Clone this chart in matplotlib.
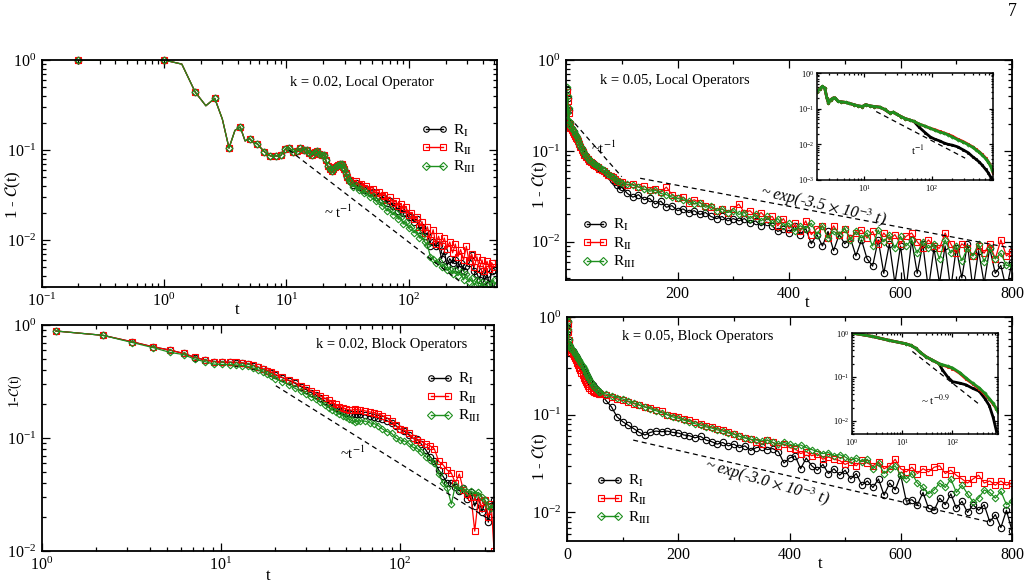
import matplotlib
matplotlib.use("Agg")
import matplotlib.pyplot as plt
from matplotlib.lines import Line2D
from matplotlib.ticker import MultipleLocator, NullFormatter, FixedLocator

plt.rcParams["font.family"] = ["Liberation Serif", "DejaVu Serif"]
plt.rcParams["mathtext.fontset"] = "stix"

LABELS = [r"R$_\mathrm{I}$", r"R$_\mathrm{II}$", r"R$_\mathrm{III}$"]
COLORS = ["#000000", "#ff0000", "#1e8f1e"]
MARKERS = ["o", "s", "D"]
MSIZES = [4.6, 4.4, 3.4]

# ---------------- k = 0.02, local operator (log-log) ----------------
tl_t_early = [0.2, 1.0, 1.4, 1.8, 2.2, 2.6, 3.0, 3.4, 3.8, 4.2, 4.6, 5.0, 5.4,
              5.8, 6.2, 6.6, 7.0, 7.4, 7.8, 8.2, 8.6, 9.0, 9.4, 9.8, 10.2]
tl_y_early = [1.0, 1.0, 0.9, 0.44, 0.31, 0.375, 0.22, 0.105, 0.165, 0.18, 0.126,
              0.134, 0.12, 0.117, 0.105, 0.096, 0.09, 0.086, 0.085, 0.086, 0.085,
              0.087, 0.094, 0.102, 0.107]
tl_t_mid = [10.6, 11.4, 12.2, 13.0, 13.8, 14.6, 15.4, 16.2, 17.0, 17.8, 18.6, 19.4,
            20.2, 21.0, 21.8, 22.6, 23.4, 24.2, 25.0, 25.8, 26.6, 27.4, 28.2, 29.0,
            29.8, 30.6, 31.4, 32.2]
tl_y_mid = [0.105, 0.095, 0.097, 0.104, 0.100, 0.101, 0.093, 0.088, 0.096, 0.097,
            0.090, 0.087, 0.088, 0.077, 0.066, 0.061, 0.059, 0.061, 0.064, 0.066,
            0.068, 0.070, 0.069, 0.065, 0.062, 0.056, 0.050, 0.046]
tl_t_late = [33, 35, 37, 39, 41, 43, 45, 48, 51, 54, 57, 60, 63, 66, 70, 74, 78, 82,
             86, 90, 95, 100, 105, 110, 116, 122, 128, 135, 142, 150, 158, 166, 175,
             185, 195, 205, 216, 228, 240, 252, 265, 280, 295, 310, 326, 342, 360,
             378, 396, 415, 435, 455, 475, 495]
tl_r1_late = [0.045, 0.041, 0.043, 0.039, 0.040, 0.036, 0.037, 0.034, 0.034, 0.030,
              0.031, 0.028, 0.029, 0.026, 0.027, 0.024, 0.024, 0.021, 0.022, 0.020,
              0.020, 0.018, 0.018, 0.016, 0.017, 0.013, 0.014, 0.011, 0.012, 0.0085,
              0.0095, 0.0085, 0.0088, 0.0062, 0.0075, 0.0052, 0.0062, 0.0055, 0.006,
              0.0048, 0.0056, 0.0045, 0.0052, 0.0055, 0.0068, 0.0045, 0.0042, 0.0036,
              0.0045, 0.0035, 0.0042, 0.0032, 0.0045, 0.0046]
tl_r2_late = [0.046, 0.043, 0.045, 0.041, 0.042, 0.038, 0.040, 0.036, 0.037, 0.033,
              0.034, 0.031, 0.032, 0.028, 0.030, 0.026, 0.027, 0.024, 0.025, 0.022,
              0.023, 0.019, 0.020, 0.017, 0.018, 0.014, 0.016, 0.012, 0.014, 0.010,
              0.013, 0.009, 0.011, 0.0085, 0.0105, 0.008, 0.0095, 0.0072, 0.009,
              0.0065, 0.0078, 0.006, 0.0085, 0.0058, 0.007, 0.005, 0.0065, 0.0048,
              0.006, 0.0045, 0.0058, 0.0048, 0.0056, 0.005]
tl_r3_late = [0.044, 0.039, 0.041, 0.036, 0.037, 0.033, 0.034, 0.030, 0.031, 0.027,
              0.027, 0.024, 0.025, 0.021, 0.022, 0.019, 0.020, 0.017, 0.018, 0.015,
              0.016, 0.0135, 0.014, 0.012, 0.0125, 0.0105, 0.011, 0.0095, 0.0088,
              0.0065, 0.0062, 0.0055, 0.0058, 0.005, 0.0052, 0.0046, 0.0048, 0.0042,
              0.0046, 0.004, 0.0044, 0.0036, 0.0042, 0.0034, 0.0038, 0.0031, 0.0036,
              0.0029, 0.0034, 0.0028, 0.0032, 0.0027, 0.0033, 0.0036]
tl_fit_t = [10.5, 258]
tl_fit_y = [0.1, 0.0035]

# ---------------- k = 0.05, local operators (lin-log) ----------------
tr_t_early = [1, 2, 3, 4, 5, 6, 7, 8, 10, 12, 14, 16, 18, 20, 22, 24, 26, 28, 30,
              33, 36, 39, 42, 45, 48, 51, 54, 57, 60, 64, 68, 72, 76, 80, 84, 88, 92, 96]
tr_r1_early = [0.48, 0.28, 0.38, 0.21, 0.28, 0.2, 0.205, 0.185, 0.175, 0.165, 0.16,
               0.15, 0.144, 0.138, 0.13, 0.12, 0.112, 0.105, 0.099, 0.092, 0.087,
               0.082, 0.079, 0.076, 0.073, 0.071, 0.069, 0.067, 0.065, 0.062, 0.06,
               0.057, 0.054, 0.051, 0.048, 0.046, 0.042, 0.038]
tr_r2_early = [0.45, 0.3, 0.35, 0.2, 0.26, 0.19, 0.2, 0.18, 0.17, 0.16, 0.155, 0.147,
               0.14, 0.135, 0.127, 0.118, 0.11, 0.103, 0.098, 0.091, 0.086, 0.081,
               0.078, 0.075, 0.072, 0.07, 0.068, 0.066, 0.064, 0.062, 0.06, 0.057,
               0.055, 0.053, 0.051, 0.049, 0.047, 0.046]
tr_r3_early = [0.5, 0.26, 0.4, 0.22, 0.3, 0.2, 0.21, 0.19, 0.18, 0.17, 0.165, 0.155,
               0.148, 0.142, 0.133, 0.123, 0.114, 0.107, 0.101, 0.094, 0.088, 0.083,
               0.08, 0.077, 0.074, 0.072, 0.07, 0.068, 0.066, 0.063, 0.061, 0.058,
               0.056, 0.053, 0.051, 0.049, 0.047, 0.046]
tr_t_late = [100, 110, 120, 130, 140, 150, 160, 170, 180, 190, 200, 210, 220, 230,
             240, 250, 260, 270, 280, 290, 300, 310, 320, 330, 340, 350, 360, 370,
             380, 390, 400, 410, 420, 430, 440, 450, 460, 470, 480, 490, 500, 510,
             520, 530, 540, 550, 560, 570, 580, 590, 600, 610, 620, 630, 640, 650,
             660, 670, 680, 690, 700, 710, 720, 730, 740, 750, 760, 770, 780, 790, 800]
tr_r1_late = [0.040, 0.034, 0.031, 0.033, 0.029, 0.030, 0.026, 0.028, 0.024, 0.025,
              0.022, 0.023, 0.021, 0.022, 0.020, 0.021, 0.019, 0.018, 0.019, 0.017,
              0.018, 0.017, 0.018, 0.016, 0.017, 0.015, 0.0165, 0.015, 0.013, 0.014,
              0.0125, 0.015, 0.012, 0.014, 0.0095, 0.012, 0.009, 0.013, 0.008, 0.012,
              0.0095, 0.011, 0.007, 0.0105, 0.0065, 0.0054, 0.0105, 0.0045, 0.0095,
              0.0035, 0.009, 0.003, 0.0105, 0.0045, 0.0095, 0.003, 0.0085, 0.0035,
              0.009, 0.003, 0.0085, 0.004, 0.0095, 0.003, 0.008, 0.0035, 0.0085,
              0.0045, 0.0055, 0.003, 0.006]
tr_r2_late = [0.045, 0.042, 0.043, 0.040, 0.041, 0.037, 0.038, 0.035, 0.040, 0.033,
              0.030, 0.031, 0.027, 0.029, 0.027, 0.025, 0.024, 0.022, 0.023, 0.021,
              0.023, 0.026, 0.021, 0.022, 0.019, 0.021, 0.018, 0.019, 0.015, 0.018,
              0.014, 0.016, 0.013, 0.017, 0.012, 0.014, 0.015, 0.011, 0.015, 0.012,
              0.014, 0.011, 0.0125, 0.0135, 0.011, 0.013, 0.0095, 0.0125, 0.0105, 0.012,
              0.0095, 0.0115, 0.0125, 0.010, 0.0085, 0.0105, 0.009, 0.0085, 0.0125,
              0.0095, 0.0075, 0.0095, 0.0085, 0.007, 0.009, 0.0075, 0.0095, 0.0065,
              0.0105, 0.007, 0.0078]
tr_r3_late = [0.044, 0.043, 0.042, 0.040, 0.038, 0.036, 0.037, 0.034, 0.033, 0.031,
              0.030, 0.029, 0.028, 0.026, 0.027, 0.024, 0.025, 0.022, 0.023, 0.021,
              0.022, 0.020, 0.021, 0.018, 0.020, 0.017, 0.019, 0.016, 0.018, 0.015,
              0.016, 0.013, 0.015, 0.014, 0.016, 0.012, 0.015, 0.011, 0.013, 0.012,
              0.014, 0.0105, 0.013, 0.011, 0.0125, 0.009, 0.0135, 0.010, 0.012, 0.0085,
              0.0115, 0.009, 0.0105, 0.0075, 0.010, 0.0085, 0.0095, 0.0065, 0.0105,
              0.0075, 0.009, 0.0062, 0.0085, 0.007, 0.0095, 0.006, 0.0085, 0.0065,
              0.0075, 0.0055, 0.0055]
tr_pow_t = [16, 100]
tr_pow_y = [0.2, 0.052]
tr_exp_t = [133, 800]
tr_exp_y = [0.050, 0.0085]

# inset of the k = 0.05 local panel (log-log)
tri_t_shared = [2.0, 2.2, 2.4, 2.6, 2.8, 2.95, 3.2, 3.5, 3.7, 4.1, 4.6, 5.3, 6.0, 7.0,
                8.0, 9.4, 10.5, 12, 14, 17, 20, 24, 27, 30, 35, 40, 47, 54]
tri_y_shared = [0.30, 0.36, 0.42, 0.38, 0.2, 0.145, 0.18, 0.2, 0.2, 0.16, 0.155,
                0.15, 0.14, 0.13, 0.12, 0.115, 0.13, 0.12, 0.115, 0.11, 0.095, 0.075,
                0.08, 0.07, 0.06, 0.053, 0.048, 0.044]
tri_t_late = [65, 80, 95, 110, 130, 150, 173, 200, 240, 290, 345, 400, 450, 500,
              555, 620, 680, 740, 780, 800]
tri_r1_late = [0.03, 0.021, 0.016, 0.014, 0.0125, 0.011, 0.010, 0.0095, 0.0085, 0.007,
               0.0058, 0.0045, 0.0038, 0.0032, 0.0026, 0.002, 0.0016, 0.0012, 0.001,
               0.0009]
tri_r2_late = [0.037, 0.032, 0.028, 0.026, 0.023, 0.021, 0.019, 0.017, 0.014, 0.012,
               0.010, 0.0085, 0.0072, 0.0062, 0.0052, 0.0042, 0.0033, 0.0025, 0.002,
               0.0016]
tri_r3_late = [0.037, 0.032, 0.028, 0.025, 0.022, 0.0205, 0.0185, 0.016, 0.0135,
               0.0115, 0.0098, 0.0082, 0.007, 0.006, 0.005, 0.004, 0.0032, 0.0024,
               0.0019, 0.0017]
tri_fit_t = [15, 310]
tri_fit_y = [0.083, 0.0041]

# ---------------- k = 0.02, block operators (log-log) ----------------
bl_t_early = [1.2, 2.2, 3.2, 4.2, 5.2, 6.2, 7.2, 8.2, 9.2, 10.2, 11.2, 12.2, 13.2,
              14.2, 15.2, 16.2, 17.2, 18.2, 19.2, 20.2]
bl_r1_early = [0.885, 0.81, 0.71, 0.64, 0.60, 0.56, 0.515, 0.49, 0.475, 0.47, 0.468,
               0.465, 0.46, 0.452, 0.438, 0.422, 0.406, 0.391, 0.377, 0.362]
bl_r2_early = [0.885, 0.81, 0.71, 0.64, 0.60, 0.56, 0.517, 0.49, 0.475, 0.47, 0.47,
               0.468, 0.463, 0.455, 0.44, 0.425, 0.41, 0.395, 0.38, 0.365]
bl_r3_early = [0.885, 0.81, 0.70, 0.63, 0.573, 0.547, 0.497, 0.473, 0.45, 0.448,
               0.446, 0.443, 0.438, 0.43, 0.415, 0.40, 0.385, 0.368, 0.352, 0.335]
bl_t_mid = [22, 24, 26, 28, 30, 32, 34, 36, 38, 40, 42, 44, 46, 48, 50, 52, 54, 56,
            58, 60]
bl_r1_mid = [0.343, 0.322, 0.305, 0.285, 0.268, 0.252, 0.24, 0.225, 0.213, 0.203,
             0.193, 0.185, 0.178, 0.172, 0.168, 0.166, 0.164, 0.163, 0.162, 0.162]
bl_r2_mid = [0.345, 0.325, 0.31, 0.29, 0.275, 0.26, 0.25, 0.235, 0.225, 0.215, 0.205,
             0.198, 0.19, 0.185, 0.18, 0.178, 0.176, 0.18, 0.178, 0.177]
bl_r3_mid = [0.315, 0.295, 0.275, 0.26, 0.245, 0.232, 0.22, 0.207, 0.196, 0.186,
             0.178, 0.17, 0.163, 0.157, 0.152, 0.147, 0.143, 0.139, 0.14, 0.142]
bl_t_late = [64, 68, 72, 76, 80, 85, 90, 95, 100, 106, 112, 118, 125, 132, 140, 148,
             156, 165, 174, 184, 194, 204, 215, 226, 238, 250, 262, 275, 288, 300,
             312, 324, 336]
bl_r1_late = [0.16, 0.155, 0.153, 0.15, 0.146, 0.142, 0.135, 0.128, 0.12, 0.115,
              0.107, 0.1, 0.097, 0.088, 0.078, 0.068, 0.062, 0.052, 0.046, 0.04, 0.04,
              0.037, 0.034, 0.036, 0.029, 0.033, 0.025, 0.03, 0.022, 0.028, 0.018,
              0.025, 0.028]
bl_r2_late = [0.174, 0.17, 0.168, 0.163, 0.158, 0.15, 0.14, 0.13, 0.12, 0.118, 0.11,
              0.1, 0.096, 0.093, 0.088, 0.085, 0.08, 0.062, 0.058, 0.052, 0.049, 0.04,
              0.048, 0.035, 0.032, 0.03, 0.015, 0.03, 0.024, 0.028, 0.02, 0.026, 0.01]
bl_r3_late = [0.141, 0.136, 0.134, 0.128, 0.12, 0.114, 0.11, 0.1, 0.096, 0.094, 0.09,
              0.083, 0.081, 0.075, 0.068, 0.064, 0.06, 0.048, 0.04, 0.036, 0.026,
              0.038, 0.035, 0.036, 0.033, 0.034, 0.032, 0.033, 0.03, 0.028, 0.025,
              0.024, 0.025]
bl_fit_t = [20.3, 316]
bl_fit_y = [0.29, 0.019]

# ---------------- k = 0.05, block operators (lin-log) ----------------
br_t_early = [0, 1, 2, 3, 4, 5, 6, 8, 10, 12, 14, 16, 18, 20, 22, 24, 26, 28, 30,
              32, 34, 36, 38, 40, 43, 46, 49, 52, 55, 58]
br_r1_early = [1.0, 0.88, 0.72, 0.58, 0.52, 0.49, 0.48, 0.46, 0.445, 0.43, 0.41,
               0.395, 0.378, 0.362, 0.347, 0.332, 0.318, 0.303, 0.289, 0.275, 0.262,
               0.249, 0.237, 0.226, 0.212, 0.2, 0.19, 0.182, 0.175, 0.168]
br_r2_early = [1.0, 0.85, 0.7, 0.58, 0.5, 0.47, 0.455, 0.44, 0.42, 0.4, 0.38, 0.36,
               0.34, 0.32, 0.3, 0.285, 0.27, 0.255, 0.24, 0.228, 0.215, 0.205, 0.196,
               0.188, 0.18, 0.174, 0.17, 0.167, 0.165, 0.163]
br_r3_early = [1.0, 0.9, 0.75, 0.6, 0.53, 0.5, 0.49, 0.47, 0.455, 0.44, 0.42, 0.41,
               0.39, 0.375, 0.36, 0.345, 0.33, 0.315, 0.3, 0.285, 0.27, 0.255, 0.242,
               0.23, 0.216, 0.203, 0.192, 0.184, 0.177, 0.172]
br_t_late = [60, 70, 80, 90, 100, 110, 120, 130, 140, 150, 160, 170, 180, 190, 200,
             210, 220, 230, 240, 250, 260, 270, 280, 290, 300, 310, 320, 330, 340,
             350, 360, 370, 380, 390, 400, 410, 420, 430, 440, 450, 460, 470, 480,
             490, 500, 510, 520, 530, 540, 550, 560, 570, 580, 590, 600, 610, 620,
             630, 640, 650, 660, 670, 680, 690, 700, 710, 720, 730, 740, 750, 760,
             770, 780, 790, 800]
br_r1_late = [0.165, 0.14, 0.12, 0.095, 0.085, 0.078, 0.072, 0.066, 0.062, 0.066,
              0.068, 0.067, 0.068, 0.066, 0.065, 0.062, 0.061, 0.058, 0.06, 0.055,
              0.053, 0.05, 0.052, 0.048, 0.05, 0.046, 0.048, 0.043, 0.046, 0.047,
              0.044, 0.045, 0.042, 0.032, 0.036, 0.038, 0.028, 0.036, 0.03, 0.027,
              0.031, 0.025, 0.028, 0.024, 0.027, 0.022, 0.025, 0.019, 0.021, 0.018,
              0.022, 0.015, 0.02, 0.017, 0.024, 0.013, 0.0135, 0.012, 0.016, 0.011,
              0.0105, 0.014, 0.012, 0.0155, 0.011, 0.013, 0.01, 0.012, 0.0105, 0.012,
              0.008, 0.0095, 0.007, 0.0105, 0.0065]
br_r2_late = [0.163, 0.158, 0.152, 0.145, 0.14, 0.136, 0.13, 0.125, 0.12, 0.118,
              0.113, 0.108, 0.1, 0.098, 0.095, 0.09, 0.088, 0.085, 0.081, 0.077,
              0.075, 0.072, 0.07, 0.066, 0.064, 0.06, 0.058, 0.056, 0.052, 0.05,
              0.055, 0.052, 0.048, 0.05, 0.046, 0.045, 0.04, 0.042, 0.038, 0.04,
              0.035, 0.037, 0.035, 0.034, 0.031, 0.033, 0.03, 0.034, 0.032, 0.03,
              0.033, 0.028, 0.03, 0.035, 0.028, 0.026, 0.029, 0.025, 0.028, 0.026,
              0.029, 0.03, 0.025, 0.027, 0.024, 0.022, 0.02, 0.022, 0.024, 0.02,
              0.021, 0.019, 0.021, 0.019, 0.02]
br_r3_late = [0.17, 0.163, 0.157, 0.15, 0.145, 0.138, 0.132, 0.126, 0.12, 0.115,
              0.11, 0.105, 0.1, 0.095, 0.092, 0.088, 0.085, 0.081, 0.078, 0.075,
              0.073, 0.07, 0.068, 0.065, 0.063, 0.06, 0.058, 0.056, 0.055, 0.054,
              0.055, 0.052, 0.05, 0.052, 0.05, 0.048, 0.049, 0.046, 0.044, 0.042,
              0.04, 0.041, 0.038, 0.039, 0.037, 0.034, 0.036, 0.033, 0.035, 0.028,
              0.032, 0.025, 0.028, 0.03, 0.024, 0.022, 0.025, 0.02, 0.018, 0.0155,
              0.017, 0.02, 0.018, 0.022, 0.016, 0.019, 0.0155, 0.0128, 0.014, 0.017,
              0.016, 0.014, 0.0165, 0.012, 0.013]
br_exp_t = [119, 763]
br_exp_y = [0.055, 0.0079]

# inset of the k = 0.05 block panel (log-log)
bri_t_shared = [1, 2.5, 5.5, 11.7, 15, 18.6, 23, 29.5, 40, 54]
bri_y_shared = [1.0, 0.84, 0.68, 0.57, 0.52, 0.45, 0.36, 0.29, 0.24, 0.2]
bri_t_late = [63, 80, 100, 140, 185, 250, 340, 440, 540, 640, 740, 800]
bri_r1_late = [0.145, 0.1, 0.078, 0.072, 0.066, 0.055, 0.047, 0.032, 0.022, 0.012,
               0.006, 0.0055]
bri_r2_late = [0.185, 0.17, 0.155, 0.12, 0.09, 0.07, 0.053, 0.04, 0.031, 0.024,
               0.019, 0.017]
bri_r3_late = [0.19, 0.175, 0.16, 0.125, 0.095, 0.072, 0.056, 0.042, 0.032, 0.025,
               0.019, 0.016]
bri_fit_t = [16, 320]
bri_fit_y = [0.38, 0.025]


def style_axes(ax, labelsize=11.5, major=6, minor=3, spine=1.3):
    ax.tick_params(which="both", direction="in", top=True, right=True, width=0.9)
    ax.tick_params(which="major", length=major, labelsize=labelsize, pad=4)
    ax.tick_params(which="minor", length=minor)
    for sp in ax.spines.values():
        sp.set_linewidth(spine)


def plot_trio(ax, series, markevery=None, lw=0.9):
    for (t, y), color, marker, ms in zip(series, COLORS, MARKERS, MSIZES):
        ax.plot(t, y, color=color, lw=lw, marker=marker, ms=ms,
                mfc="none", mec=color, mew=0.8, markevery=markevery)


def plot_inset_trio(ax, series):
    for (t, y), color, marker in zip(series, COLORS, MARKERS):
        ax.plot(t, y, color=color, lw=2.0, marker=marker, ms=1.6,
                mfc="none", mec=color, mew=0.6)


def add_legend(ax, anchor, fontsize=11):
    handles = [Line2D([0], [0], color=c, marker=m, ms=4, mfc="none", mec=c,
                      mew=0.8, lw=1.0) for c, m in zip(COLORS, MARKERS)]
    ax.legend(handles, LABELS, loc="upper left", bbox_to_anchor=anchor,
              frameon=False, numpoints=2, fontsize=fontsize, handlelength=1.7,
              handletextpad=0.35, labelspacing=0.15, borderpad=0, borderaxespad=0)


def fit_line(ax, t, y):
    ax.plot(t, y, color="black", lw=0.9, ls=(0, (4, 3)))


W, H = 1029, 586
fig = plt.figure(figsize=(W / 100, H / 100), dpi=100)


def px_axes(left, top, right, bottom):
    return fig.add_axes([left / W, 1 - bottom / H, (right - left) / W, (bottom - top) / H])


# ---- top left ----
ax = px_axes(41.5, 60, 497, 287)
n_early = len(tl_t_early)
tl_marks = [0] + list(range(1, n_early, 2)) + list(range(n_early, n_early + len(tl_t_mid) + len(tl_t_late)))
tl_series = [(tl_t_early + tl_t_mid + tl_t_late, tl_y_early + tl_y_mid + late)
             for late in (tl_r1_late, tl_r2_late, tl_r3_late)]
plot_trio(ax, tl_series, markevery=tl_marks)
# the two first points sit on the top spine; draw them unclipped
for color, marker, ms in zip(COLORS, MARKERS, MSIZES):
    ax.plot(tl_t_early[:2], tl_y_early[:2], ls="none", marker=marker, ms=ms,
            mfc="none", mec=color, mew=0.8, clip_on=False)
fit_line(ax, tl_fit_t, tl_fit_y)
ax.set_xscale("log")
ax.set_yscale("log")
ax.set_xlim(0.1, 525)
ax.set_ylim(0.003, 1)
style_axes(ax)
ax.text(0.704, 0.903, "k = 0.02, Local Operator", transform=ax.transAxes,
        ha="center", va="center", fontsize=10.5)
ax.text(0.651, 0.33, r"~ t$^{-1}$", transform=ax.transAxes, ha="center",
        va="center", fontsize=10.5)
add_legend(ax, (0.835, 0.725))

# ---- top right ----
ax = px_axes(566, 60, 1012, 280)
tr_series = [(tr_t_early + tr_t_late, e + l) for e, l in
             ((tr_r1_early, tr_r1_late), (tr_r2_early, tr_r2_late), (tr_r3_early, tr_r3_late))]
plot_trio(ax, tr_series)
fit_line(ax, tr_pow_t, tr_pow_y)
fit_line(ax, tr_exp_t, tr_exp_y)
ax.set_yscale("log")
ax.set_xlim(0, 800)
ax.set_ylim(0.0038, 1)
ax.xaxis.set_major_locator(FixedLocator([200, 400, 600, 800]))
ax.xaxis.set_minor_locator(MultipleLocator(100))
style_axes(ax)
ax.text(0.244, 0.909, "k = 0.05, Local Operators", transform=ax.transAxes,
        ha="center", va="center", fontsize=10.5)
ax.text(0.085, 0.6, r"~t$^{-1}$", transform=ax.transAxes, ha="center",
        va="center", fontsize=10.5)
ax.text(0.576, 0.332, r"~ exp(-3.5 $\times$ 10$^{-3}$ t)", transform=ax.transAxes,
        ha="center", va="center", fontsize=11.5, style="italic", rotation=-13)
add_legend(ax, (0.036, 0.286))

ins = px_axes(817, 73, 993, 180)
tri_series = [(tri_t_shared + tri_t_late, tri_y_shared + l)
              for l in (tri_r1_late, tri_r2_late, tri_r3_late)]
plot_inset_trio(ins, tri_series)
fit_line(ins, tri_fit_t, tri_fit_y)
ins.set_xscale("log")
ins.set_yscale("log")
ins.set_xlim(2, 800)
ins.set_ylim(0.001, 1)
style_axes(ins, labelsize=6, major=3, minor=1.5, spine=1.1)
ins.tick_params(which="major", pad=2)
ins.text(0.574, 0.28, r"t$^{-1}$", transform=ins.transAxes, ha="center",
         va="center", fontsize=8)

# ---- bottom left ----
ax = px_axes(41.7, 325, 494.3, 551)
bl_series = [(bl_t_early + bl_t_mid + bl_t_late, e + m + l) for e, m, l in
             ((bl_r1_early, bl_r1_mid, bl_r1_late), (bl_r2_early, bl_r2_mid, bl_r2_late),
              (bl_r3_early, bl_r3_mid, bl_r3_late))]
plot_trio(ax, bl_series)
fit_line(ax, bl_fit_t, bl_fit_y)
ax.set_xscale("log")
ax.set_yscale("log")
ax.set_xlim(1, 337)
ax.set_ylim(0.01, 1)
style_axes(ax)
ax.text(0.774, 0.912, "k = 0.02, Block Operators", transform=ax.transAxes,
        ha="center", va="center", fontsize=10.5)
ax.text(0.686, 0.434, r"~t$^{-1}$", transform=ax.transAxes, ha="center",
        va="center", fontsize=10.5)
add_legend(ax, (0.851, 0.796))

# ---- bottom right ----
ax = px_axes(567, 317, 1012, 541)
br_series = [(br_t_early + br_t_late, e + l) for e, l in
             ((br_r1_early, br_r1_late), (br_r2_early, br_r2_late), (br_r3_early, br_r3_late))]
plot_trio(ax, br_series)
fit_line(ax, br_exp_t, br_exp_y)
ax.set_yscale("log")
ax.set_xlim(0, 800)
ax.set_ylim(0.0051, 1)
ax.xaxis.set_major_locator(MultipleLocator(200))
ax.xaxis.set_minor_locator(MultipleLocator(100))
style_axes(ax)
ax.text(0.294, 0.915, "k = 0.05, Block Operators", transform=ax.transAxes,
        ha="center", va="center", fontsize=10.5)
ax.text(0.449, 0.259, r"~ exp(-3.0 $\times$ 10$^{-3}$ t)", transform=ax.transAxes,
        ha="center", va="center", fontsize=11.5, style="italic", rotation=-16)
add_legend(ax, (0.067, 0.304))

ins = px_axes(851.7, 333, 998, 434)
bri_series = [(bri_t_shared + bri_t_late, bri_y_shared + l)
              for l in (bri_r1_late, bri_r2_late, bri_r3_late)]
plot_inset_trio(ins, bri_series)
fit_line(ins, bri_fit_t, bri_fit_y)
ins.set_xscale("log")
ins.set_yscale("log")
ins.set_xlim(1, 800)
ins.set_ylim(0.005, 1)
style_axes(ins, labelsize=6, major=3, minor=1.5, spine=1.1)
ins.tick_params(which="major", pad=2)
ins.text(0.569, 0.337, r"~ t$^{-0.9}$", transform=ins.transAxes, ha="center",
         va="center", fontsize=8)

for a in fig.axes:
    if a.get_yscale() == "log":
        a.yaxis.set_minor_formatter(NullFormatter())
    if a.get_xscale() == "log":
        a.xaxis.set_minor_formatter(NullFormatter())

# axis labels and page number
ylab = r"1 - $\mathcal{C}$(t)"
fig.text(13 / W, 1 - 195 / H, ylab, rotation=90, ha="center", va="center", fontsize=12)
fig.text(540 / W, 1 - 185 / H, ylab, rotation=90, ha="center", va="center", fontsize=12)
fig.text(15 / W, 1 - 391 / H, r"1-$\mathcal{C}$(t)", rotation=90, ha="center",
         va="center", fontsize=10)
fig.text(540 / W, 1 - 457 / H, ylab, rotation=90, ha="center", va="center", fontsize=12)
for x, y in ((237, 310), (807, 303), (268, 576), (820, 564)):
    fig.text(x / W, 1 - y / H, "t", ha="center", va="center", fontsize=12)
fig.text(1012 / W, 1 - 12 / H, "7", ha="center", va="center", fontsize=13)

fig.savefig("out.png", dpi=100)
